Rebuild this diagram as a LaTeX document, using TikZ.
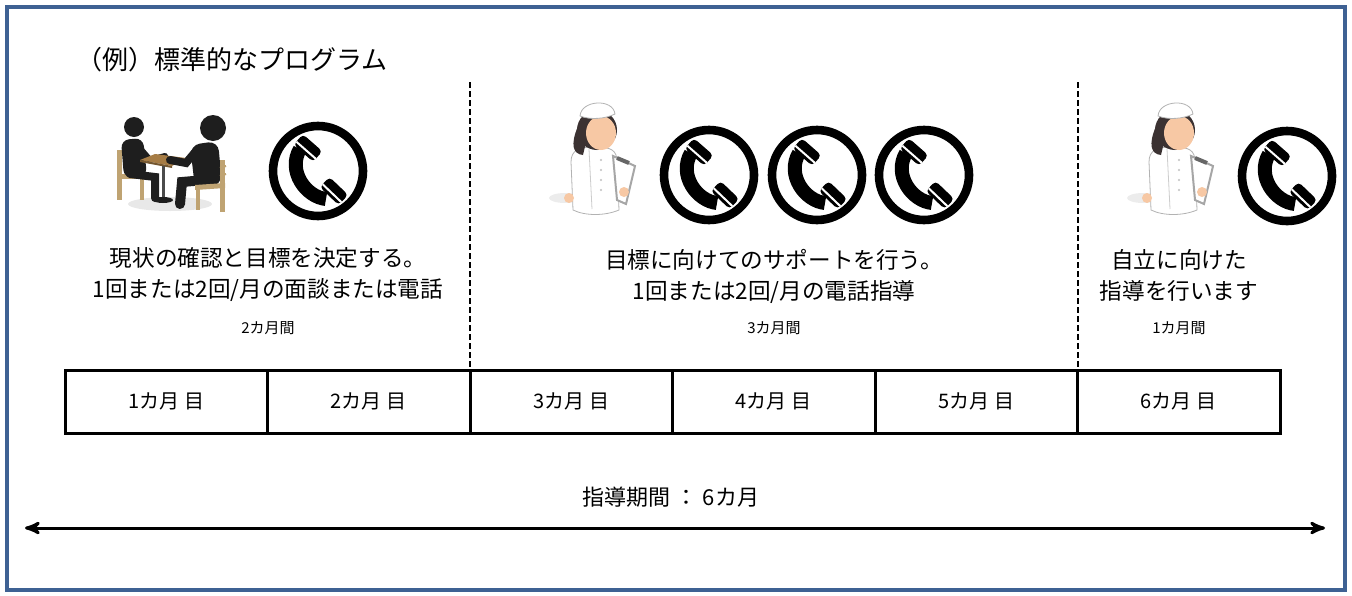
\documentclass[tikz,border=0pt]{standalone}
\usepackage{fontspec}
\setmainfont{Noto Sans CJK JP}
\usetikzlibrary{arrows}
\definecolor{frameblue}{HTML}{3E6193}
\definecolor{woodtop}{HTML}{A67C45}
\definecolor{woodchair}{HTML}{BFA372}
\definecolor{skin}{HTML}{F7C8A4}
\definecolor{hairdark}{HTML}{3B3232}
\definecolor{figblack}{HTML}{1E1E1E}
\tikzset{
  heading/.style = {anchor=west, inner sep=0pt, font=\fontsize{13}{15}\selectfont},
  note/.style = {align=center, inner sep=0pt, font=\fontsize{11.3}{15.5}\selectfont},
  duration/.style = {inner sep=0pt, font=\fontsize{7.5}{9}\selectfont},
  month/.style = {draw, line width=1.5pt, minimum width=101.25pt, minimum height=31.5pt, inner sep=0pt, font=\fontsize{10}{12}\selectfont},
  divider/.style = {line width=1pt, dash pattern=on 3pt off 1.5pt},
  % round telephone sign
  phone/.pic = {
    \draw[line width=4.3pt] (0,0) circle [radius=45];
    \draw[line width=7pt] (-18,-22) .. controls (-31,0) and (-12,26) .. (8,28);
    \fill[rounded corners=2pt] (4.4,-19.7) -- (-4.9,-9.2) -- (-24.4,-26.3) -- (-15.1,-36.8) -- cycle;
    \fill[rounded corners=2pt] (30.2,23.9) -- (20.5,34) -- (1.8,16.1) -- (11.5,6) -- cycle;
    \draw[white, line width=1pt] (-2.2,-12.2) -- (-21.7,-29.3);
    \draw[white, line width=1pt] (23.3,31.1) -- (4.6,13.2);
  },
  % nurse with clipboard
  nurse/.pic = {
    \fill[gray!15] (-30,38) ellipse [x radius=16, y radius=5];
    \draw[gray!60, fill=white] (-22,50) -- (-24,2) .. controls (-24,-10) and (-16,-13) .. (0,-13)
      .. controls (16,-13) and (22,-10) .. (22,2) -- (24,50) .. controls (10,56) and (-10,56) .. (-22,50) -- cycle;
    \draw[gray!40] (-6,-11) -- (-3,49);
    \foreach \by in {0,10,20,30}
      \fill[gray!50] (6,\by) circle [radius=1.2];
    \fill[hairdark] (2,-30) ellipse [x radius=20, y radius=20];
    \fill[hairdark] (-17,-34) .. controls (-25,-15) and (-22,-6) .. (-12,-5) -- (-8,-22) -- cycle;
    \fill[skin] (6,-27) ellipse [x radius=15, y radius=17];
    \draw[gray!60, fill=white] (-15,-44) .. controls (-14,-60) and (18,-62) .. (20,-46)
      .. controls (10,-41) and (-5,-40) .. (-15,-44) -- cycle;
    \draw[gray!70, line width=1pt, fill=white] (18,-4) -- (40,6) -- (31,44) -- (22,40) -- cycle;
    \draw[gray!80!black, line width=2pt] (22,-2) -- (34,3);
    \fill[skin] (29,32) circle [radius=5];
    \fill[skin] (-26,38) circle [radius=5];
  }
}

\begin{document}
\begin{tikzpicture}[x=0.5pt, y=-0.5pt, >=stealth']
  \useasboundingbox (0,0) rectangle (1352,595);
  \draw[frameblue, line width=2pt] (7,7) rectangle (1345,590);

  \node[heading] (title) at (76,60) {（例）標準的なプログラム};

  % meeting at a table
  \fill[gray!18] (170,204) ellipse [x radius=42, y radius=7];
  \fill[woodchair] (117,150) rectangle (122,200);
  \fill[woodchair] (117,174) rectangle (146,179);
  \fill[woodchair] (140,178) rectangle (144,200);
  \fill[figblack] (134,127) circle [radius=10];
  \fill[figblack, rounded corners=4pt] (121,140) -- (143,138) -- (147,176) -- (124,178) -- cycle;
  \draw[figblack, line width=3pt, line cap=round] (138,146) -- (150,160) -- (165,156);
  \draw[figblack, line width=4pt, line cap=round] (130,174) -- (155,177) -- (155,198);
  \fill[woodtop] (140,160) -- (155,154) -- (186,158) -- (172,166) -- cycle;
  \fill[woodtop!70!black] (140,160) -- (172,166) -- (172,168) -- (140,162) -- cycle;
  \draw[figblack!80, line width=1.5pt] (163,166) -- (163,199);
  \fill[figblack] (163,200) ellipse [x radius=10, y radius=3];
  \draw[figblack, line width=5pt, line cap=round] (205,180) -- (182,182) -- (180,204);
  \fill[figblack, rounded corners=5pt] (190,145) -- (218,141) -- (222,185) -- (195,188) -- cycle;
  \fill[figblack] (213,128) circle [radius=13];
  \draw[figblack, line width=4pt, line cap=round] (196,151) -- (186,163) -- (170,160);
  \fill[woodchair] (220,160) rectangle (225,212);
  \fill[woodchair] (195,185) -- (225,183) -- (225,188) -- (195,190) -- cycle;
  \fill[woodchair] (196,188) rectangle (200,210);
  \draw[woodchair, line width=1pt] (220,168) -- (226,166) (220,176) -- (226,174);

  % phones and nurses
  \pic (tel1) at (318,171) {phone};
  \pic (nurse1) at (595,160) {nurse};
  \pic (tel2) at (709,175) {phone};
  \pic (tel3) at (817,175) {phone};
  \pic (tel4) at (924,175) {phone};
  \pic (nurse2) at (1173,160) {nurse};
  \pic (tel5) at (1287,176) {phone};

  % phase borders
  \coordinate (d1top) at (470,82);
  \coordinate (d1bot) at (470,370);
  \coordinate (d2top) at (1078,82);
  \coordinate (d2bot) at (1078,370);
  \draw[divider] (d1top) -- (d1bot);
  \draw[divider] (d2top) -- (d2bot);

  \node[note] (phase1) at (268,275) {現状の確認と目標を決定する。\\1回または2回/月の面談または電話};
  \node[note] (phase2) at (774,276) {目標に向けてのサポートを行う。\\1回または2回/月の電話指導};
  \node[note] (phase3) at (1179,275) {自立に向けた\\指導を行います};
  \node[duration] (len1) at (268,328) {2カ月間};
  \node[duration] (len2) at (774,328) {3カ月間};
  \node[duration] (len3) at (1179,328) {1カ月間};

  % month row
  \foreach \i in {1,...,6}
    \node[month] (m\i) at ({65+202.5*(\i-0.5)},401.5) {\i カ月\kern0.25em 目};

  % whole period
  \node[font=\fontsize{11}{13}\selectfont, inner sep=0pt] (total) at (671,497) {指導期間 ： 6カ月};
  \coordinate (tstart) at (25,528);
  \coordinate (tend) at (1325,528);
  \draw[<->, line width=1.5pt] (tstart) -- (tend);
\end{tikzpicture}
\end{document}
